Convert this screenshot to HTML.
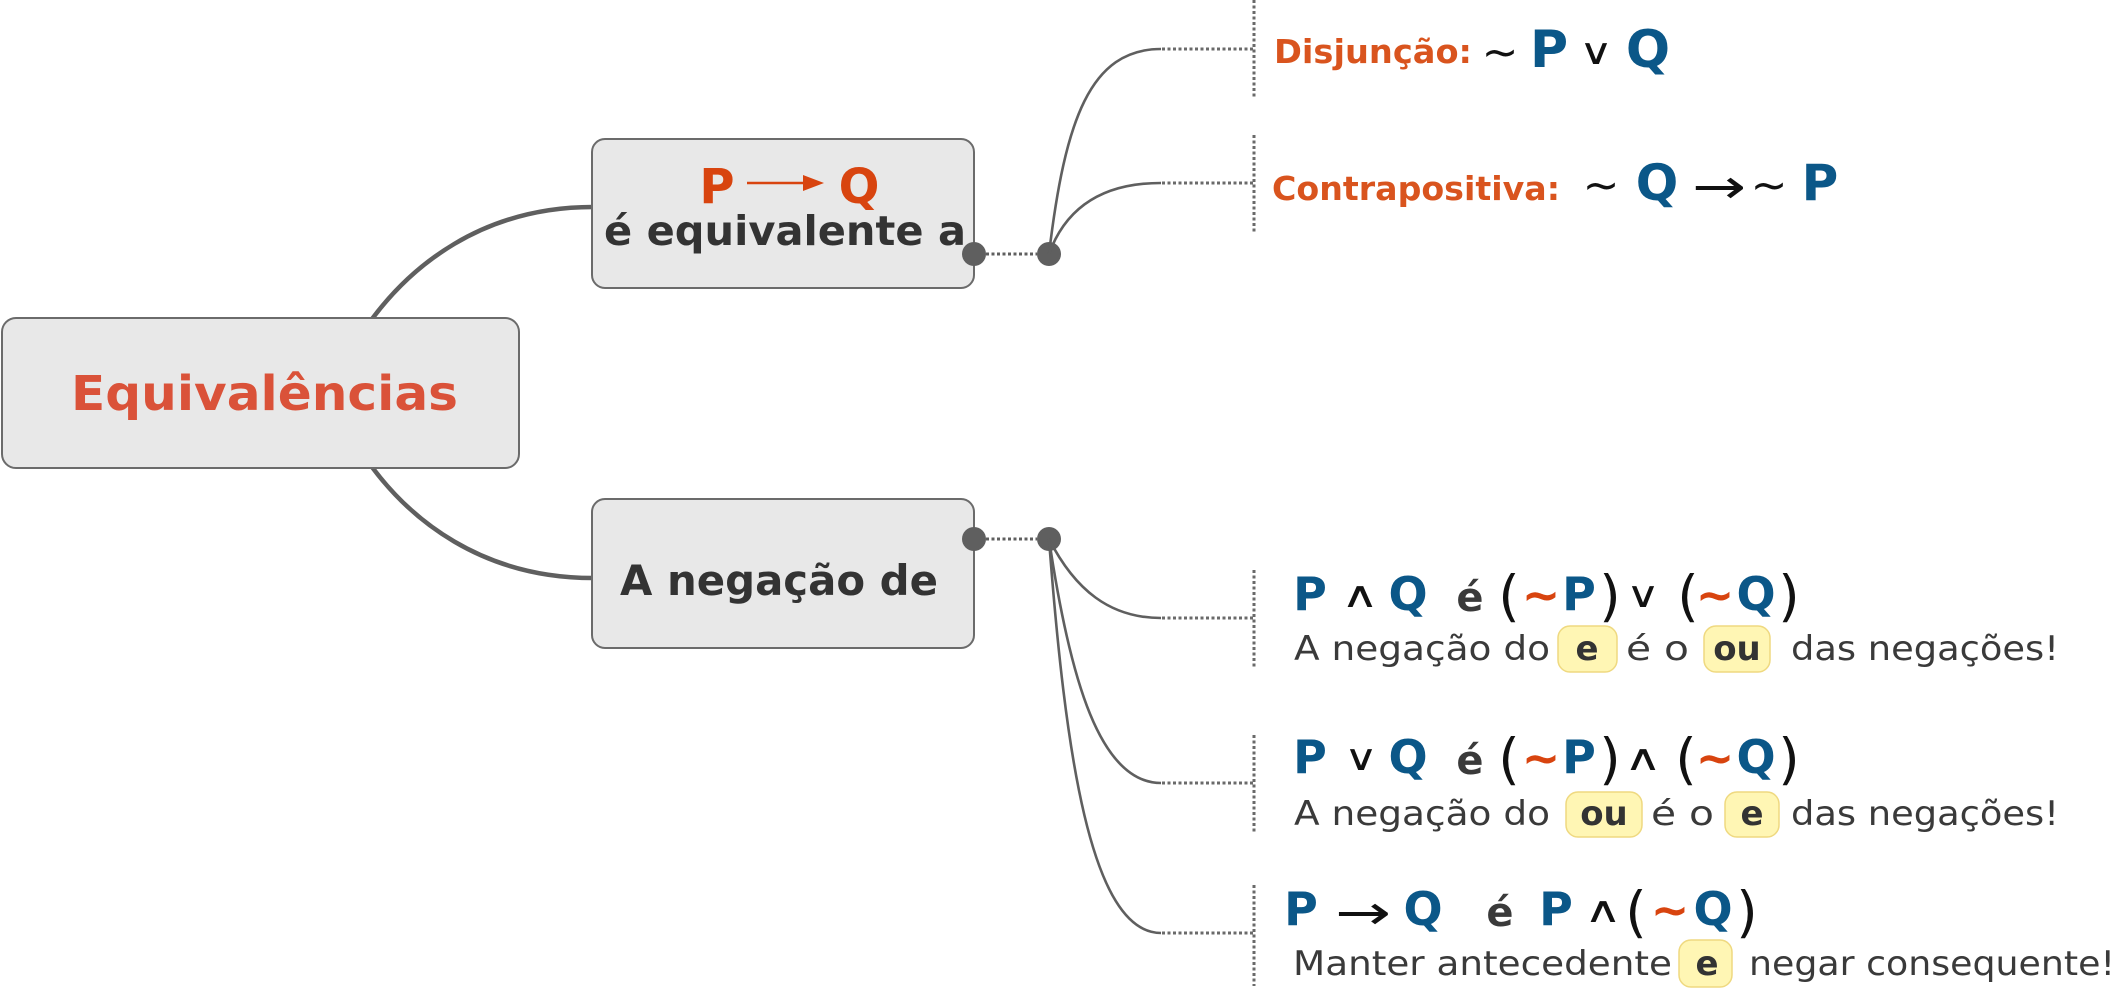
<!DOCTYPE html>
<html>
<head>
<meta charset="utf-8">
<style>
  html,body{margin:0;padding:0;background:#ffffff;}
  svg{display:block;}
  text{font-family:"DejaVu Sans","Liberation Sans",sans-serif;}
</style>
</head>
<body>
<svg width="2116" height="988" viewBox="0 0 2116 988" xmlns="http://www.w3.org/2000/svg">
  <!-- main thick connectors -->
  <path d="M372,319 C410,268 480,207 593,207" fill="none" stroke="#5f5f5f" stroke-width="4.5"/>
  <path d="M372,467 C410,518 480,578 593,578" fill="none" stroke="#5f5f5f" stroke-width="4.5"/>

  <!-- central node -->
  <rect x="2" y="318" width="517" height="150" rx="14" ry="14" fill="#e8e8e8" stroke="#6b6b6b" stroke-width="2"/>
  <text x="71" y="410" font-size="48" font-weight="bold" fill="#da5239" textLength="387" lengthAdjust="spacingAndGlyphs">Equivalências</text>

  <!-- top node -->
  <rect x="592" y="139" width="382" height="149" rx="13" ry="13" fill="#e8e8e8" stroke="#6b6b6b" stroke-width="2"/>
  <text x="717" y="203" font-size="48" font-weight="bold" fill="#d8440f" text-anchor="middle">P</text>
  <line x1="747" y1="183" x2="806" y2="183" stroke="#d8440f" stroke-width="2.5"/>
  <polygon points="803,175 824,183 803,191" fill="#d8440f"/>
  <text x="859" y="203" font-size="48" font-weight="bold" fill="#d8440f" text-anchor="middle">Q</text>
  <text x="604" y="245" font-size="41" font-weight="bold" fill="#333333" textLength="362" lengthAdjust="spacingAndGlyphs">é equivalente a</text>

  <!-- bottom node -->
  <rect x="592" y="499" width="382" height="149" rx="13" ry="13" fill="#e8e8e8" stroke="#6b6b6b" stroke-width="2"/>
  <text x="620" y="595" font-size="42" font-weight="bold" fill="#333333" textLength="318" lengthAdjust="spacingAndGlyphs">A negação de</text>

  <!-- dots & dotted stubs -->
  <line x1="986" y1="254" x2="1037" y2="254" stroke="#5f5f5f" stroke-width="3" stroke-dasharray="3 2.5"/>
  <line x1="986" y1="539" x2="1037" y2="539" stroke="#5f5f5f" stroke-width="3" stroke-dasharray="3 2.5"/>
  <circle cx="974" cy="254" r="12" fill="#5f5f5f"/>
  <circle cx="1049" cy="254" r="12" fill="#5f5f5f"/>
  <circle cx="974" cy="539" r="12" fill="#5f5f5f"/>
  <circle cx="1049" cy="539" r="12" fill="#5f5f5f"/>

  <!-- thin connectors -->
  <g fill="none" stroke="#5f5f5f" stroke-width="2.6">
    <path d="M1049,254 C1065,120 1090,49 1161,49"/>
    <path d="M1049,254 C1065,210 1100,183 1161,183"/>
    <path d="M1049,539 C1075,590 1110,618 1161,618"/>
    <path d="M1049,539 C1070,680 1100,783 1161,783"/>
    <path d="M1049,539 C1065,750 1090,933 1161,933"/>
  </g>

  <!-- dotted horizontal and vertical lines -->
  <g stroke="#6a6a6a" stroke-width="3" stroke-dasharray="3 2.5" fill="none">
    <line x1="1162" y1="49" x2="1254" y2="49"/>
    <line x1="1162" y1="183" x2="1254" y2="183"/>
    <line x1="1162" y1="618" x2="1254" y2="618"/>
    <line x1="1162" y1="783" x2="1254" y2="783"/>
    <line x1="1162" y1="933" x2="1254" y2="933"/>
    <line x1="1254" y1="0" x2="1254" y2="98"/>
    <line x1="1254" y1="135" x2="1254" y2="233"/>
    <line x1="1254" y1="570" x2="1254" y2="668"/>
    <line x1="1254" y1="735" x2="1254" y2="832"/>
    <line x1="1254" y1="885" x2="1254" y2="986"/>
  </g>

  <!-- Row: Disjunção -->
  <text x="1274" y="63" font-size="33" font-weight="bold" fill="#d9541e" textLength="198" lengthAdjust="spacingAndGlyphs">Disjunção:</text>
  <text x="1500" y="67" font-size="44" fill="#111" text-anchor="middle">~</text>
  <text x="1549" y="67" font-size="52" font-weight="bold" fill="#0b5788" text-anchor="middle">P</text>
  <text transform="translate(1596,64) scale(1.3,1)" font-size="36" fill="#111" text-anchor="middle">∨</text>
  <text x="1648" y="67" font-size="52" font-weight="bold" fill="#0b5788" text-anchor="middle">Q</text>

  <!-- Row: Contrapositiva -->
  <text x="1272" y="200" font-size="33" font-weight="bold" fill="#d9541e" textLength="288" lengthAdjust="spacingAndGlyphs">Contrapositiva:</text>
  <text x="1601" y="200" font-size="44" fill="#111" text-anchor="middle">~</text>
  <text x="1657" y="200" font-size="50" font-weight="bold" fill="#0b5788" text-anchor="middle">Q</text>
  <text x="1692" y="203" font-size="48" fill="#111" textLength="54" lengthAdjust="spacingAndGlyphs">→</text>
  <text x="1769" y="200" font-size="44" fill="#111" text-anchor="middle">~</text>
  <text x="1820" y="200" font-size="50" font-weight="bold" fill="#0b5788" text-anchor="middle">P</text>

  <!-- Item 1 -->
  <g>
    <text x="1310" y="610" font-size="46" font-weight="bold" fill="#0b5788" text-anchor="middle">P</text>
    <text transform="translate(1360,607) scale(1.45,1)" font-size="36" fill="#111" text-anchor="middle">∧</text>
    <text x="1408" y="610" font-size="46" font-weight="bold" fill="#0b5788" text-anchor="middle">Q</text>
    <text x="1470" y="611" font-size="40" font-weight="bold" fill="#3a3a3a" text-anchor="middle">é</text>
    <text x="1509" y="615" font-size="55" fill="#111" text-anchor="middle">(</text>
    <text x="1541" y="611" font-size="46" font-weight="bold" fill="#d8440f" text-anchor="middle">~</text>
    <text x="1579" y="610" font-size="46" font-weight="bold" fill="#0b5788" text-anchor="middle">P</text>
    <text x="1610" y="615" font-size="55" fill="#111" text-anchor="middle">)</text>
    <text transform="translate(1643,607) scale(1.3,1)" font-size="36" fill="#111" text-anchor="middle">∨</text>
    <text x="1688" y="615" font-size="55" fill="#111" text-anchor="middle">(</text>
    <text x="1715" y="611" font-size="46" font-weight="bold" fill="#d8440f" text-anchor="middle">~</text>
    <text x="1756" y="610" font-size="46" font-weight="bold" fill="#0b5788" text-anchor="middle">Q</text>
    <text x="1789" y="615" font-size="55" fill="#111" text-anchor="middle">)</text>

    <text x="1294" y="660" font-size="34" fill="#3a3a3a" textLength="256" lengthAdjust="spacingAndGlyphs">A negação do</text>
    <rect x="1558" y="626" width="59" height="46" rx="12" ry="12" fill="#fff6b4" stroke="#efd980" stroke-width="1.5"/>
    <text x="1587" y="660" font-size="34" font-weight="bold" fill="#333" text-anchor="middle">e</text>
    <text x="1626" y="660" font-size="34" fill="#3a3a3a" textLength="63" lengthAdjust="spacingAndGlyphs">é o</text>
    <rect x="1704" y="626" width="66" height="46" rx="12" ry="12" fill="#fff6b4" stroke="#efd980" stroke-width="1.5"/>
    <text x="1737" y="660" font-size="34" font-weight="bold" fill="#333" text-anchor="middle">ou</text>
    <text x="1791" y="660" font-size="34" fill="#3a3a3a" textLength="268" lengthAdjust="spacingAndGlyphs">das negações!</text>
  </g>

  <!-- Item 2 -->
  <g>
    <text x="1310" y="773" font-size="46" font-weight="bold" fill="#0b5788" text-anchor="middle">P</text>
    <text transform="translate(1361,770) scale(1.3,1)" font-size="36" fill="#111" text-anchor="middle">∨</text>
    <text x="1408" y="773" font-size="46" font-weight="bold" fill="#0b5788" text-anchor="middle">Q</text>
    <text x="1470" y="774" font-size="40" font-weight="bold" fill="#3a3a3a" text-anchor="middle">é</text>
    <text x="1509" y="778" font-size="55" fill="#111" text-anchor="middle">(</text>
    <text x="1541" y="774" font-size="46" font-weight="bold" fill="#d8440f" text-anchor="middle">~</text>
    <text x="1579" y="773" font-size="46" font-weight="bold" fill="#0b5788" text-anchor="middle">P</text>
    <text x="1610" y="778" font-size="55" fill="#111" text-anchor="middle">)</text>
    <text transform="translate(1643,770) scale(1.45,1)" font-size="36" fill="#111" text-anchor="middle">∧</text>
    <text x="1686" y="778" font-size="55" fill="#111" text-anchor="middle">(</text>
    <text x="1715" y="774" font-size="46" font-weight="bold" fill="#d8440f" text-anchor="middle">~</text>
    <text x="1756" y="773" font-size="46" font-weight="bold" fill="#0b5788" text-anchor="middle">Q</text>
    <text x="1789" y="778" font-size="55" fill="#111" text-anchor="middle">)</text>

    <text x="1294" y="825" font-size="34" fill="#3a3a3a" textLength="256" lengthAdjust="spacingAndGlyphs">A negação do</text>
    <rect x="1566" y="792" width="76" height="45" rx="12" ry="12" fill="#fff6b4" stroke="#efd980" stroke-width="1.5"/>
    <text x="1604" y="825" font-size="34" font-weight="bold" fill="#333" text-anchor="middle">ou</text>
    <text x="1651" y="825" font-size="34" fill="#3a3a3a" textLength="63" lengthAdjust="spacingAndGlyphs">é o</text>
    <rect x="1725" y="792" width="54" height="45" rx="12" ry="12" fill="#fff6b4" stroke="#efd980" stroke-width="1.5"/>
    <text x="1752" y="825" font-size="34" font-weight="bold" fill="#333" text-anchor="middle">e</text>
    <text x="1791" y="825" font-size="34" fill="#3a3a3a" textLength="268" lengthAdjust="spacingAndGlyphs">das negações!</text>
  </g>

  <!-- Item 3 -->
  <g>
    <text x="1301" y="925" font-size="46" font-weight="bold" fill="#0b5788" text-anchor="middle">P</text>
    <text x="1335" y="929" font-size="48" fill="#111" textLength="56" lengthAdjust="spacingAndGlyphs">→</text>
    <text x="1423" y="925" font-size="46" font-weight="bold" fill="#0b5788" text-anchor="middle">Q</text>
    <text x="1500" y="926" font-size="40" font-weight="bold" fill="#3a3a3a" text-anchor="middle">é</text>
    <text x="1556" y="925" font-size="46" font-weight="bold" fill="#0b5788" text-anchor="middle">P</text>
    <text transform="translate(1603,922) scale(1.45,1)" font-size="36" fill="#111" text-anchor="middle">∧</text>
    <text x="1636" y="931" font-size="55" fill="#111" text-anchor="middle">(</text>
    <text x="1670" y="926" font-size="46" font-weight="bold" fill="#d8440f" text-anchor="middle">~</text>
    <text x="1713" y="925" font-size="46" font-weight="bold" fill="#0b5788" text-anchor="middle">Q</text>
    <text x="1747" y="931" font-size="55" fill="#111" text-anchor="middle">)</text>

    <text x="1293" y="975" font-size="34" fill="#3a3a3a" textLength="379" lengthAdjust="spacingAndGlyphs">Manter antecedente</text>
    <rect x="1679" y="940" width="53" height="47" rx="12" ry="12" fill="#fff6b4" stroke="#efd980" stroke-width="1.5"/>
    <text x="1707" y="975" font-size="34" font-weight="bold" fill="#333" text-anchor="middle">e</text>
    <text x="1749" y="975" font-size="34" fill="#3a3a3a" textLength="366" lengthAdjust="spacingAndGlyphs">negar consequente!</text>
  </g>
</svg>
</body>
</html>
